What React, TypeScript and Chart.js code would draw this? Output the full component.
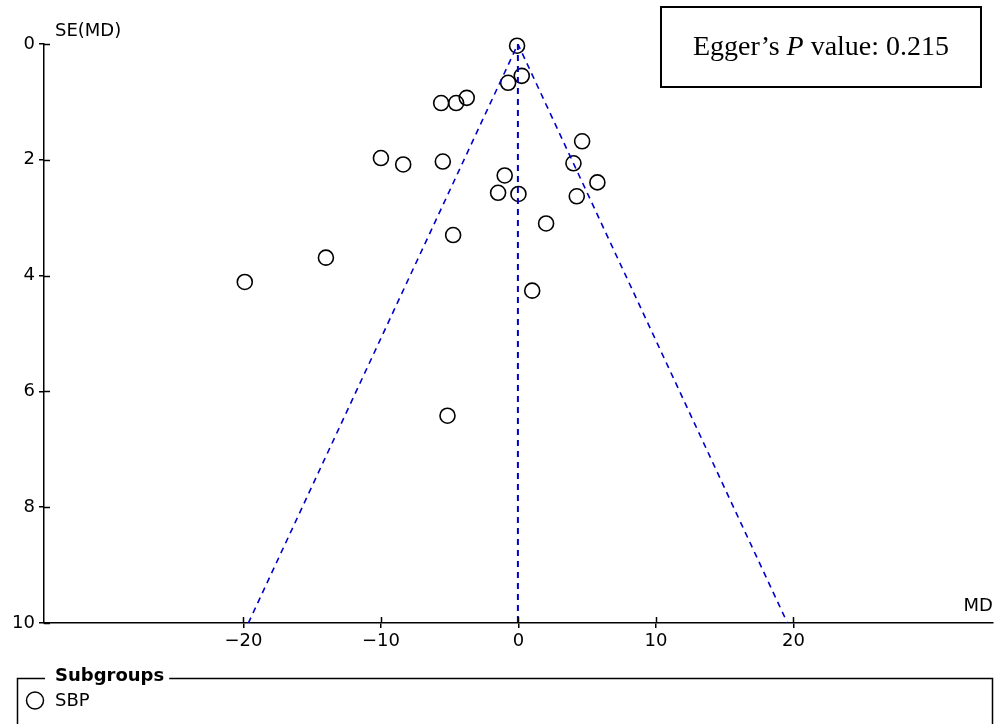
import React, { useEffect, useRef } from "react";
import { Chart, registerables } from "chart.js";

Chart.register(...registerables);

// Study estimates: mean difference (MD) and standard error SE(MD)
const studyMD = [-0.1, 0.24, -0.75, -3.76, -4.53, -5.62, 4.63, -10.0, -8.38, -5.5, 4.0, -1.0, 5.74, -1.48, 0.0, 4.24, 2.01, -4.75, -14.0, 1.0, -19.9, -5.16];
const studySE = [0.03, 0.55, 0.67, 0.93, 1.02, 1.02, 1.68, 1.97, 2.08, 2.03, 2.06, 2.27, 2.39, 2.57, 2.59, 2.63, 3.1, 3.3, 3.69, 4.26, 4.11, 6.42];

const pooledMD = -0.04;
const funnelSEMax = 10;
const zCrit = 1.96;

const xTicks = [-20, -10, 0, 10, 20];
const yTicks = [0, 2, 4, 6, 8, 10];
const xRange = [-34.5, 34.5];

const eggerLabel = ["Egger\u2019s ", "P", " value: 0.215"];
const legendTitle = "Subgroups";
const seriesName = "SBP";
const yTitle = "SE(MD)";
const xTitle = "MD";

const SANS = "'DejaVu Sans', sans-serif";
const SERIF = "'Liberation Serif', 'DejaVu Serif', serif";
const FUNNEL_COLOR = "#0000cc";

const overlayPlugin = {
  id: "overlay",
  afterDraw(chart: any) {
    const ctx = chart.ctx as CanvasRenderingContext2D;
    const area = chart.chartArea;
    ctx.save();
    ctx.fillStyle = "#000";
    ctx.strokeStyle = "#000";
    // inner parts of tick marks
    ctx.lineWidth = 1.5;
    ctx.beginPath();
    const xs = chart.scales.x;
    const ys = chart.scales.y;
    xTicks.forEach((v) => {
      const px = Math.round(xs.getPixelForValue(v)) + 0.5;
      ctx.moveTo(px, area.bottom);
      ctx.lineTo(px, area.bottom - 6);
    });
    yTicks.forEach((v) => {
      const py = Math.round(ys.getPixelForValue(v)) + 0.5;
      ctx.moveTo(area.left, py);
      ctx.lineTo(area.left + 6, py);
    });
    ctx.stroke();

    // axis titles
    ctx.font = `18px ${SANS}`;
    ctx.textBaseline = "middle";
    ctx.textAlign = "left";
    ctx.fillText(yTitle, area.left + 11, 31);
    ctx.textAlign = "right";
    ctx.fillText(xTitle, area.right, area.bottom - 17);

    // Egger box
    const bx = 661, by = 7, bw = 320, bh = 80;
    ctx.lineWidth = 2;
    ctx.strokeRect(bx, by, bw, bh);
    const fN = `28px ${SERIF}`;
    const fI = `italic 28px ${SERIF}`;
    ctx.font = fN;
    const w0 = ctx.measureText(eggerLabel[0]).width;
    const w2 = ctx.measureText(eggerLabel[2]).width;
    ctx.font = fI;
    const w1 = ctx.measureText(eggerLabel[1]).width;
    let tx = bx + bw / 2 - (w0 + w1 + w2) / 2;
    const ty = by + bh / 2 + 1;
    ctx.textAlign = "left";
    ctx.textBaseline = "middle";
    ctx.font = fN;
    ctx.fillText(eggerLabel[0], tx, ty);
    tx += w0;
    ctx.font = fI;
    ctx.fillText(eggerLabel[1], tx, ty);
    tx += w1;
    ctx.font = fN;
    ctx.fillText(eggerLabel[2], tx, ty);

    // Legend group box
    const ly = 678.5;
    const lx = 17.5;
    const rx = 992.5;
    ctx.font = `bold 18px ${SANS}`;
    const tw = ctx.measureText(legendTitle).width;
    ctx.lineWidth = 1.5;
    ctx.beginPath();
    ctx.moveTo(lx, chart.height + 2);
    ctx.lineTo(lx, ly);
    ctx.lineTo(45, ly);
    ctx.moveTo(55 + tw + 5, ly);
    ctx.lineTo(rx, ly);
    ctx.lineTo(rx, chart.height + 2);
    ctx.stroke();
    ctx.textBaseline = "middle";
    ctx.fillText(legendTitle, 55, 676);
    ctx.beginPath();
    ctx.arc(35, 700.5, 8.5, 0, Math.PI * 2);
    ctx.stroke();
    ctx.font = `18px ${SANS}`;
    ctx.fillText(seriesName, 55, 701);
    ctx.restore();
  },
};

export default function App() {
  const ref = useRef<HTMLCanvasElement>(null);
  useEffect(() => {
    document.body.style.margin = "0";
    const canvas = ref.current;
    if (!canvas) return;
    const points = studyMD.map((x, i) => ({ x, y: studySE[i] }));
    const sideLines = [
      { x: pooledMD - zCrit * funnelSEMax, y: funnelSEMax },
      { x: pooledMD, y: 0 },
      { x: pooledMD + zCrit * funnelSEMax, y: funnelSEMax },
    ];
    const centerLine = [
      { x: pooledMD, y: 0 },
      { x: pooledMD, y: funnelSEMax },
    ];
    const chart = new Chart(canvas, {
      type: "scatter",
      data: {
        datasets: [
          {
            label: "funnel",
            data: sideLines,
            showLine: true,
            borderColor: FUNNEL_COLOR,
            borderWidth: 1.6,
            borderDash: [6, 5],
            pointRadius: 0,
            fill: false,
          } as any,
          {
            label: "pooled",
            data: centerLine,
            showLine: true,
            borderColor: FUNNEL_COLOR,
            borderWidth: 2,
            borderDash: [6, 5],
            pointRadius: 0,
            fill: false,
          } as any,
          {
            label: seriesName,
            data: points,
            clip: false,
            pointStyle: "circle",
            pointRadius: 7.5,
            pointBorderWidth: 1.6,
            pointBorderColor: "#000",
            pointBackgroundColor: "rgba(255,255,255,0)",
            borderColor: "#000",
          } as any,
        ],
      },
      options: {
        animation: false,
        responsive: false,
        maintainAspectRatio: false,
        layout: { padding: { top: 44, right: 0, bottom: 71, left: 0 } },
        plugins: { legend: { display: false }, tooltip: { enabled: false } },
        scales: {
          x: {
            type: "linear",
            min: xRange[0],
            max: xRange[1],
            afterBuildTicks: (s: any) => {
              s.ticks = xTicks.map((v) => ({ value: v }));
            },
            afterFit: (s: any) => {
              s.height = 30;
              s.paddingLeft = 0;
              s.paddingRight = 0;
            },
            ticks: {
              color: "#000",
              font: { family: "DejaVu Sans", size: 18 },
              padding: 3,
              callback: (v: any) => String(v).replace("-", "\u2212"),
            },
            grid: {
              display: true,
              drawOnChartArea: false,
              drawTicks: true,
              tickLength: 5,
              color: "#000",
              lineWidth: 1.5,
            },
            border: { display: true, color: "#000", width: 1.5 },
          },
          y: {
            type: "linear",
            reverse: true,
            min: 0,
            max: 10,
            afterBuildTicks: (s: any) => {
              s.ticks = yTicks.map((v) => ({ value: v }));
            },
            afterFit: (s: any) => {
              s.width = 44;
              s.paddingTop = 0;
              s.paddingBottom = 0;
            },
            ticks: {
              color: "#000",
              font: { family: "DejaVu Sans", size: 18 },
              padding: 4,
            },
            grid: {
              display: true,
              drawOnChartArea: false,
              drawTicks: true,
              tickLength: 5,
              color: "#000",
              lineWidth: 1.5,
            },
            border: { display: true, color: "#000", width: 1.5 },
          },
        },
      } as any,
      plugins: [overlayPlugin],
    });
    return () => chart.destroy();
  }, []);
  return (
    <div style={{ position: "fixed", left: 0, top: 0, width: 999, height: 724, overflow: "hidden", background: "#fff" }}>
      <canvas ref={ref} width={1002} height={724} style={{ display: "block" }} />
    </div>
  );
}
